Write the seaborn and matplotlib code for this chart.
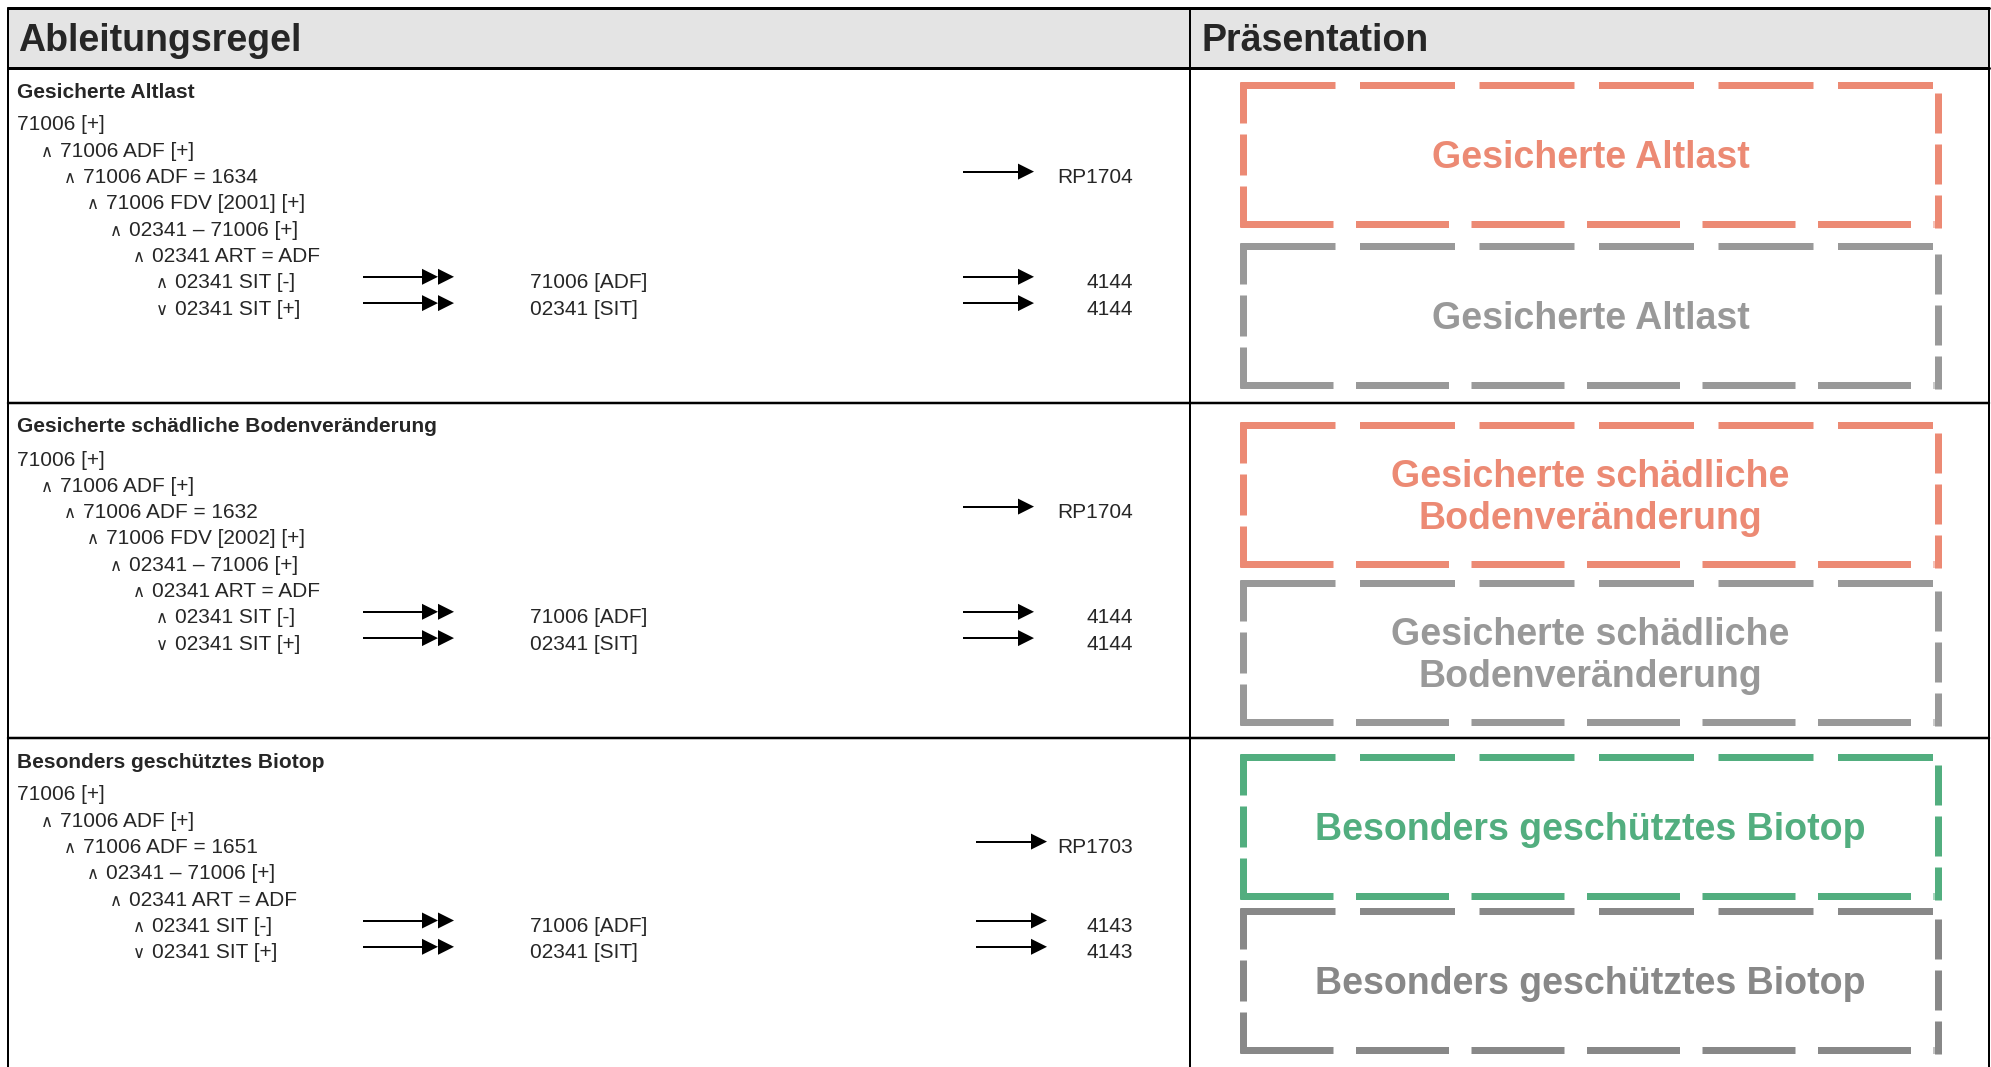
import numpy as np
import pandas as pd
import matplotlib.pyplot as plt
import seaborn as sns

# Inhalt der Tabelle
headers = ["Ableitungsregel", "Präsentation"]
section_titles = ["Gesicherte Altlast", "Gesicherte schädliche Bodenveränderung", "Besonders geschütztes Biotop"]
adf_values = ["1634", "1632", "1651"]
fdv_years = ["2001", "2002", None]
rp_codes = ["RP1704", "RP1704", "RP1703"]
sit_codes = ["4144", "4144", "4143"]
sit_targets = ["71006 [ADF]", "02341 [SIT]"]
presentation_labels = ["Gesicherte Altlast", "Gesicherte schädliche\nBodenveränderung", "Besonders geschütztes Biotop"]
presentation_colors = ["#EC8A74", "#EC8A74", "#52AE7F"]
inactive_colors = ["#999999", "#999999", "#888888"]

sns.set_theme(style='white')
plt.rcParams['font.family'] = ['Liberation Sans', 'DejaVu Sans']
plt.rcParams['lines.scale_dashes'] = False

W, H = 1991, 1067
fig = plt.figure(figsize=(W / 100, H / 100), dpi=100)
ax = fig.add_axes([0, 0, 1, 1])
ax.set_xlim(0, W)
ax.set_ylim(H, 0)
ax.axis('off')

PT = 0.72  # px -> pt bei 100 dpi
col_x = 1190
row_tops = [68, 403, 738]
box1_off = [17, 22, 19]
box2_off = [178, 180, 173]
box_left, box_right = 1243, 1938
box_h = 139


def build_rule(i):
    rows = [("", "71006 [+]"), ("∧", "71006 ADF [+]"), ("∧", f"71006 ADF = {adf_values[i]}")]
    if fdv_years[i]:
        rows.append(("∧", f"71006 FDV [{fdv_years[i]}] [+]"))
    rows += [("∧", "02341 – 71006 [+]"), ("∧", "02341 ART = ADF"),
             ("∧", "02341 SIT [-]"), ("∨", "02341 SIT [+]")]
    levels = list(range(len(rows)))
    levels[-1] = levels[-2]
    return rows, levels


def arrow(x0, x1, y, heads=1):
    hl, hw = 16, 8
    ax.plot([x0, x1 - hl * heads + 2], [y, y], color='black', lw=2 * PT, solid_capstyle='butt')
    for k in range(heads):
        tip = x1 - k * hl
        ax.fill([tip - hl, tip, tip - hl], [y - hw, y, y + hw], color='black', lw=0)


def dashed(x0, y0, x1, y1, dash, gap, color, lw=7):
    ax.plot([x0, x1], [y0, y1], color=color, lw=lw * PT,
            linestyle=(0, (dash * PT, gap * PT)), dash_capstyle='butt')


def dashed_box(top, color):
    bot = top + box_h
    half = 3.5
    dashed(box_left - half, top, box_right - 4, top, 95, 24.5, color)
    dashed(box_left - half, bot, box_right - 4, bot, 93, 22.5, color)
    dashed(box_left, top - half, box_left, bot + half, 41, 11, color)
    dashed(box_right, top + 8, box_right, bot + half, 40, 11, color)


# Kopfzeile
ax.fill_between([8, 1989], 8, 68, color='#E4E4E4', lw=0)
ax.text(18, 51, headers[0], fontsize=27, fontweight='bold', ha='left', va='baseline')
ax.text(1201, 51, headers[1], fontsize=27, fontweight='bold', ha='left', va='baseline')

# Rahmen
ax.plot([8, 1989], [8, 8], color='black', lw=3 * PT)
ax.plot([8, 1989], [68, 68], color='black', lw=3 * PT)
for rt in row_tops[1:]:
    ax.plot([8, 1989], [rt, rt], color='black', lw=2.5 * PT)
for x in [8, col_x, 1989]:
    ax.plot([x, x], [8, H], color='black', lw=2 * PT)

line_h = 26.3
for i, rt in enumerate(row_tops):
    ax.text(17, rt + 29.5, section_titles[i], fontsize=15, fontweight='bold', va='baseline')
    rows, levels = build_rule(i)
    for j, ((op, txt), lev) in enumerate(zip(rows, levels)):
        yc = rt + 55 + line_h * j
        if lev == 0:
            ax.text(17, yc + 7.5, txt, fontsize=15, va='baseline')
        else:
            sx = 19 + 23 * lev
            ax.text(sx - 1, yc + 7.5, op, fontsize=12, va='baseline',
                    family=['DejaVu Sans'])
            ax.text(sx + 18, yc + 7.5, txt, fontsize=15, va='baseline')
    ax0 = 976 if i == 2 else 963
    # RP-Code an der ADF-Zeile
    yc = rt + 55 + line_h * 2
    arrow(ax0, ax0 + 71, yc - 4)
    ax.text(1133, yc + 7.5, rp_codes[i], fontsize=15, ha='right', va='baseline')
    # SIT-Zeilen
    for k in range(2):
        yc = rt + 55 + line_h * (len(rows) - 2 + k)
        arrow(363, 454, yc - 4, heads=2)
        ax.text(530, yc + 7.5, sit_targets[k], fontsize=15, va='baseline')
        arrow(ax0, ax0 + 71, yc - 4)
        ax.text(1133, yc + 7.5, sit_codes[i], fontsize=15, ha='right', va='baseline')

    # Praesentation
    cx = (box_left + box_right) / 2
    for top, col in [(rt + box1_off[i], presentation_colors[i]), (rt + box2_off[i], inactive_colors[i])]:
        dashed_box(top, col)
        parts = presentation_labels[i].split('\n')
        n = len(parts)
        center = top + box_h / 2
        for k, p in enumerate(parts):
            ax.text(cx, center + 13.5 + (k - (n - 1) / 2) * 42, p, fontsize=27,
                    fontweight='bold', color=col, ha='center', va='baseline')

plt.savefig('out.png', dpi=100)
